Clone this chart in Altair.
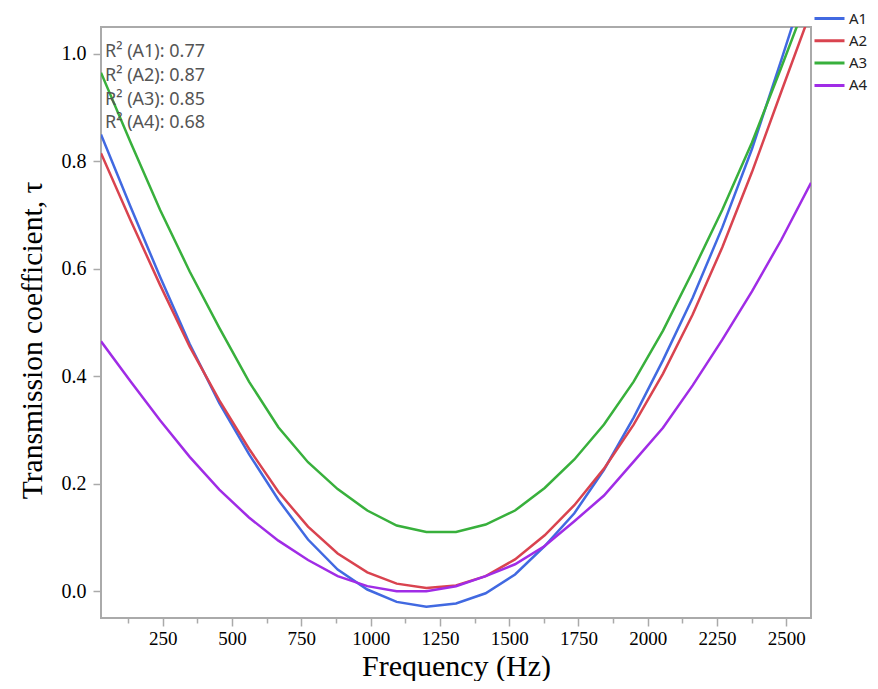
import altair as alt
import pandas as pd

freq = [27, 134, 240, 347, 454, 561, 667, 774, 881, 988, 1094, 1201, 1308,
        1415, 1521, 1628, 1735, 1842, 1949, 2055, 2162, 2269, 2376, 2482, 2589]

a1 = [0.85, 0.715, 0.585, 0.46, 0.35, 0.255, 0.17, 0.096, 0.04, 0.003, -0.02, -0.029, -0.023,
      -0.004, 0.031, 0.084, 0.145, 0.226, 0.323, 0.43, 0.546, 0.677, 0.823, 0.989, 1.16]
a2 = [0.815, 0.69, 0.57, 0.455, 0.355, 0.265, 0.185, 0.12, 0.07, 0.035, 0.014, 0.006, 0.0106,
      0.028, 0.059, 0.104, 0.16, 0.228, 0.31, 0.405, 0.515, 0.64, 0.78, 0.93, 1.08]
a3 = [0.965, 0.835, 0.71, 0.595, 0.49, 0.39, 0.305, 0.24, 0.19, 0.15, 0.122, 0.11, 0.11,
      0.124, 0.15, 0.192, 0.245, 0.31, 0.39, 0.485, 0.595, 0.71, 0.835, 0.975, 1.12]
a4 = [0.465, 0.39, 0.318, 0.25, 0.189, 0.137, 0.094, 0.058, 0.028, 0.0093, 0.0, 0.0, 0.009,
      0.028, 0.05, 0.084, 0.13, 0.178, 0.241, 0.304, 0.383, 0.468, 0.558, 0.654, 0.76]

series_names = ["A1", "A2", "A3", "A4"]
series_colors = ["#4169E1", "#D9434F", "#38B03C", "#A02CE6"]
r2_labels = ["R² (A1): 0.77", "R² (A2): 0.87", "R² (A3): 0.85", "R² (A4): 0.68"]

x_ticks = [125 * i for i in range(1, 21)]
y_ticks = [0.0, 0.2, 0.4, 0.6, 0.8, 1.0]

rows = []
for name, vals in zip(series_names, [a1, a2, a3, a4]):
    for f, v in zip(freq, vals):
        rows.append({"freq": f, "tau": v, "series": name})
df = pd.DataFrame(rows)

lines = alt.Chart(df).mark_line(clip=True, strokeWidth=2.5).encode(
    x=alt.X("freq:Q",
            scale=alt.Scale(domain=[27, 2589], nice=False, zero=False),
            axis=alt.Axis(values=x_ticks, format="d",
                          labelExpr="datum.value % 250 === 0 ? datum.label : ''",
                          tickSize={"condition": {"test": "datum.value % 250 === 0", "value": 8}, "value": 5},
                          labelFontSize=19, labelPadding=3, titlePadding=3, titleFontSize=30),
            title="Frequency (Hz)"),
    y=alt.Y("tau:Q",
            scale=alt.Scale(domain=[-0.05, 1.05], nice=False, zero=False),
            axis=alt.Axis(values=y_ticks, format=".1f", tickSize=8, labelPadding=7,
                          titleFontSize=29.5, titleX=-54, titleY=313),
            title="Transmission coefficient, τ"),
    color=alt.Color("series:N",
                    scale=alt.Scale(domain=series_names, range=series_colors),
                    legend=alt.Legend(title=None, orient="none", legendX=712, legendY=-18,
                                      symbolType="stroke", symbolSize=900, symbolStrokeWidth=3,
                                      labelFont="Noto Sans", labelFontSize=15, labelColor="#222222",
                                      clipHeight=19, rowPadding=3.3, labelOffset=3)),
)

txt_df = pd.DataFrame({"label": r2_labels, "idx": [0, 1, 2, 3]})
texts = alt.Chart(txt_df).transform_calculate(
    ypx="29.7 + datum.idx * 23.9"
).mark_text(align="left", baseline="alphabetic", font="Noto Sans", fontSize=18,
            color="#555555").encode(
    x=alt.value(4),
    y=alt.Y("ypx:Q", scale=None, axis=None),
    text="label:N",
)

chart = alt.layer(lines, texts).resolve_scale(y="independent").properties(
    width=710, height=591,
    autosize=alt.AutoSizeParams(type="none"),
    padding={"left": 93, "top": 19, "right": 59, "bottom": 63},
).configure_view(
    stroke="#AAAAAA", strokeWidth=2
).configure_axis(
    domain=False, grid=False,
    tickColor="#AAAAAA", tickWidth=1.5,
    labelFont="Liberation Serif", labelFontSize=20, labelColor="#000000",
    titleFont="Liberation Serif", titleFontWeight="normal", titleColor="#000000",
)

chart.save("out.html", embed_options={"renderer": "svg", "actions": False})
